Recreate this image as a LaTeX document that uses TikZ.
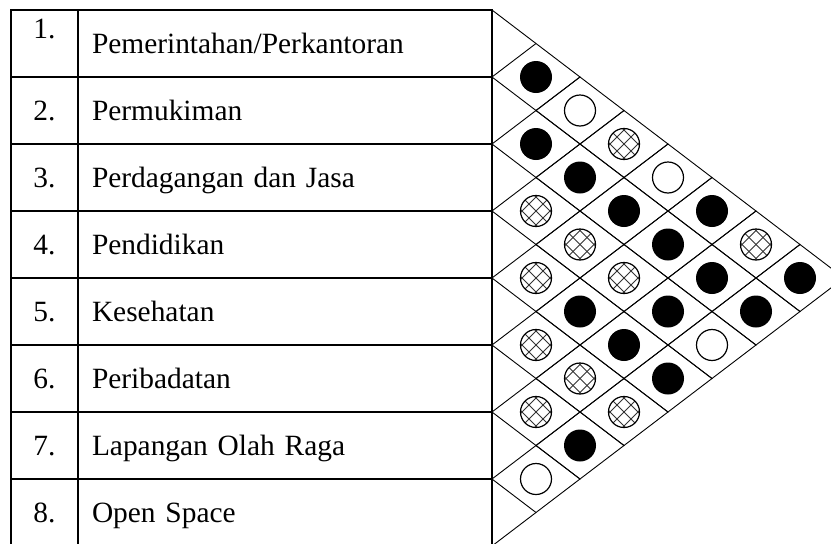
\documentclass[tikz,border=0pt]{standalone}
\usepackage{fontspec}
\setmainfont{Liberation Serif}
\usepackage{tikz}
\usetikzlibrary{positioning,shapes.geometric}
\newcommand\cellfont{\fontsize{29.4}{34}\selectfont}
\newcommand\crossdisc{%
  \begin{scope}
    \clip (path picture bounding box.center) circle (15.5pt);
    \foreach \s in {-14,0,14}{
      \draw[hatchline] ([xshift=\s pt]path picture bounding box.center) ++(-20,-20) -- ++(40,40);
      \draw[hatchline] ([xshift=\s pt]path picture bounding box.center) ++(-20,20) -- ++(40,-40);
    }
  \end{scope}
  \draw[ring] (path picture bounding box.center) circle (15.5pt);}

\begin{document}
\begin{tikzpicture}[
      x=1pt, y=-1pt,
      numcell/.style={draw, line width=1.3pt, minimum width=67pt, minimum height=67pt,
                      inner sep=0pt, outer sep=0pt, text height=20pt, text depth=0pt,
                      font=\cellfont},
      numtop/.style={numcell, text depth=31pt},
      namecell/.style={draw, line width=1.3pt, minimum height=67pt, text width=386pt,
                       inner xsep=14pt, inner ysep=0pt, outer sep=0pt, align=left,
                       text height=20pt, text depth=0pt, font=\cellfont},
      cell/.style={draw, diamond, line width=0.9pt, minimum width=88pt, minimum height=67pt,
                   inner sep=0pt, outer sep=0pt},
      blackdot/.style={cell, path picture={\fill (path picture bounding box.center) circle (16pt);}},
      opendot/.style={cell, path picture={\draw[ring] (path picture bounding box.center) circle (15.5pt);}},
      crossdot/.style={cell, path picture=\crossdisc},
      ring/.style={line width=1.2pt},
      hatchline/.style={line width=0.8pt, black!80},
      rim/.style={line width=0.9pt}
    ]
      \path[use as bounding box, fill=white] (0,0) rectangle (831,544);

      \node[numtop] (n1) at (44.5,43.5) {1.};
      \node[namecell, right=0pt of n1] (t1) {Pemerintahan/Perkantoran};
      \node[numcell, below=0pt of n1] (n2) {2.};
      \node[namecell, right=0pt of n2] (t2) {Permukiman};
      \node[numcell, below=0pt of n2] (n3) {3.};
      \node[namecell, right=0pt of n3] (t3) {Perdagangan dan Jasa};
      \node[numcell, below=0pt of n3] (n4) {4.};
      \node[namecell, right=0pt of n4] (t4) {Pendidikan};
      \node[numcell, below=0pt of n4] (n5) {5.};
      \node[namecell, right=0pt of n5] (t5) {Kesehatan};
      \node[numcell, below=0pt of n5] (n6) {6.};
      \node[namecell, right=0pt of n6] (t6) {Peribadatan};
      \node[numcell, below=0pt of n6] (n7) {7.};
      \node[namecell, right=0pt of n7] (t7) {Lapangan Olah Raga};
      \node[numcell, below=0pt of n7] (n8) {8.};
      \node[namecell, right=0pt of n8] (t8) {Open Space};

      \node[blackdot] (d12) at (536,77) {};
      \node[opendot]  (d13) at (580,110.5) {};
      \node[crossdot] (d14) at (624,144) {};
      \node[opendot]  (d15) at (668,177.5) {};
      \node[blackdot] (d16) at (712,211) {};
      \node[crossdot] (d17) at (756,244.5) {};
      \node[blackdot] (d18) at (800,278) {};

      \node[blackdot] (d23) at (536,144) {};
      \node[blackdot] (d24) at (580,177.5) {};
      \node[blackdot] (d25) at (624,211) {};
      \node[blackdot] (d26) at (668,244.5) {};
      \node[blackdot] (d27) at (712,278) {};
      \node[blackdot] (d28) at (756,311.5) {};

      \node[crossdot] (d34) at (536,211) {};
      \node[crossdot] (d35) at (580,244.5) {};
      \node[crossdot] (d36) at (624,278) {};
      \node[blackdot] (d37) at (668,311.5) {};
      \node[opendot]  (d38) at (712,345) {};

      \node[crossdot] (d45) at (536,278) {};
      \node[blackdot] (d46) at (580,311.5) {};
      \node[blackdot] (d47) at (624,345) {};
      \node[blackdot] (d48) at (668,378.5) {};

      \node[crossdot] (d56) at (536,345) {};
      \node[crossdot] (d57) at (580,378.5) {};
      \node[crossdot] (d58) at (624,412) {};

      \node[crossdot] (d67) at (536,412) {};
      \node[blackdot] (d68) at (580,445.5) {};

      \node[opendot]  (d78) at (536,479) {};

      \draw[rim] (t1.north east) -- (d12.north);
      \draw[rim] (t8.south east) -- (d78.south);
    \end{tikzpicture}
\end{document}
